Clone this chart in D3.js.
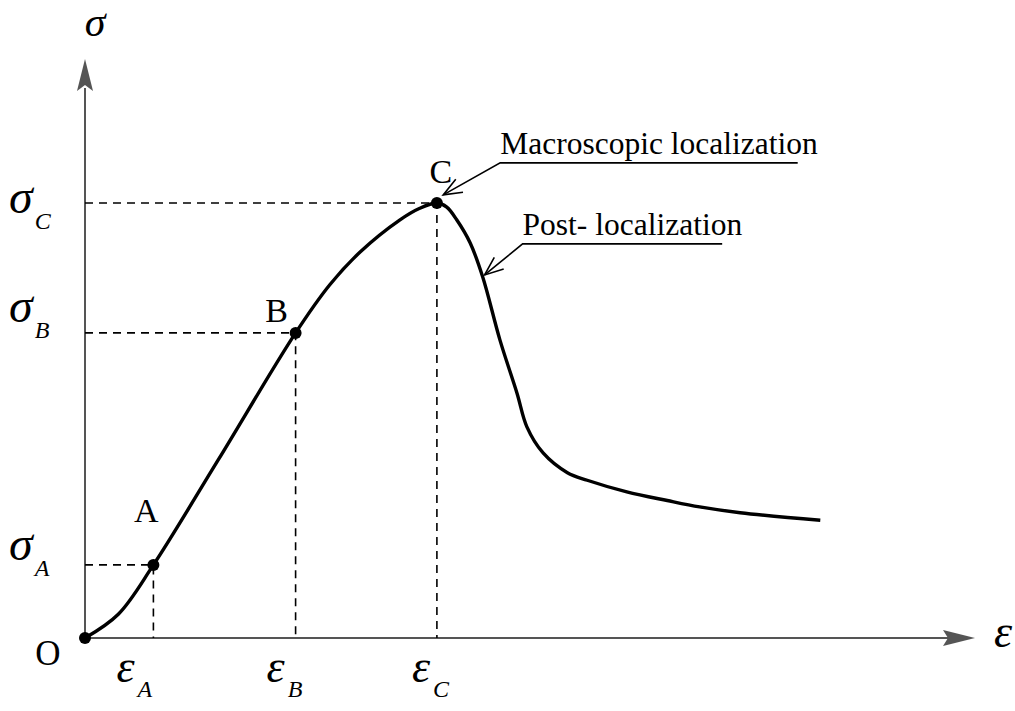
<!DOCTYPE html>
<html><head><meta charset="utf-8">
<script src="https://cdn.jsdelivr.net/npm/d3@7"></script>
<style>body{margin:0;background:#fff}svg{display:block}text{font-family:"Liberation Serif","Times New Roman",serif;fill:#000}</style>
</head><body><svg id="c" width="1015" height="711"></svg>
<script>
// ---- data (strain ε, stress σ in arbitrary units) ----
const strain = [0, 0.37, 0.76, 1.48, 2.34, 2.72, 3.06, 3.5, 3.72, 3.91, 4.02, 4.13, 4.28, 4.42, 4.61, 4.8, 4.91, 5.09, 5.36, 5.58, 6.02, 6.47, 6.83, 7.28, 8.17];
const stress = [0, 0.41, 1.26, 3.07, 5.26, 6.09, 6.66, 7.21, 7.41, 7.5, 7.43, 7.21, 6.81, 6.22, 5.14, 4.22, 3.64, 3.19, 2.85, 2.72, 2.52, 2.37, 2.26, 2.16, 2.03];
const keyNames = ["A", "B", "C"];
const keyStrain = [0.76, 2.34, 3.91];
const keyStress = [1.26, 5.26, 7.5];
const annotText = ["Macroscopic localization", "Post- localization"];
const annotStrain = [3.98, 4.44];
const annotStress = [7.64, 6.26];

const svg = d3.select("#c");
const x = d3.scaleLinear().domain([0, 10]).range([85, 985]);
const y = d3.scaleLinear().domain([0, 10]).range([638, 58]);
const axisColor = "#555";

// axes
const gx = svg.append("g").attr("transform", `translate(0,${y(0)})`)
  .call(d3.axisBottom(x).tickValues([]).tickSizeOuter(0));
const gy = svg.append("g").attr("transform", `translate(${x(0)},0)`)
  .call(d3.axisLeft(y).tickValues([]).tickSizeOuter(0));
[gx, gy].forEach(g => g.select(".domain").attr("stroke", axisColor).attr("stroke-width", 2));
gx.select(".domain").attr("d", `M${x(0)},0H${x(10) - 30}`);
gy.select(".domain").attr("d", `M0,${y(0)}V${y(10) + 30}`);

// arrowheads
const yt = [x(0), y(10) + 1];
svg.append("path").attr("fill", axisColor)
  .attr("d", `M${yt[0]},${yt[1]}L${yt[0] + 8},${yt[1] + 32}L${yt[0]},${yt[1] + 26}L${yt[0] - 8},${yt[1] + 32}Z`);
const xt = [x(10) - 10, y(0)];
svg.append("path").attr("fill", axisColor)
  .attr("d", `M${xt[0]},${xt[1]}L${xt[0] - 32},${xt[1] - 8}L${xt[0] - 27},${xt[1]}L${xt[0] - 32},${xt[1] + 8}Z`);

// dashed guide lines
keyNames.forEach((n, i) => {
  svg.append("path").attr("fill", "none").attr("stroke", "#000").attr("stroke-width", 1.6)
    .attr("stroke-dasharray", "8,6")
    .attr("d", `M${x(0)},${y(keyStress[i])}H${x(keyStrain[i])}V${y(0)}`);
});

// curve
const line = d3.line().x((d, i) => x(strain[i])).y((d, i) => y(stress[i])).curve(d3.curveCatmullRom.alpha(0.5));
svg.append("path").datum(strain).attr("fill", "none").attr("stroke", "#000")
  .attr("stroke-width", 3.4).attr("stroke-linejoin", "round").attr("d", line);

// points
svg.selectAll("circle.k").data([0, ...keyStrain]).join("circle")
  .attr("cx", d => x(d)).attr("cy", (d, i) => y(i === 0 ? 0 : keyStress[i - 1])).attr("r", 6).attr("fill", "#000");

// point letters
const letterOff = [[-7, -43], [-19, -11], [4, -20]];
keyNames.forEach((n, i) => {
  svg.append("text").attr("x", x(keyStrain[i]) + letterOff[i][0]).attr("y", y(keyStress[i]) + letterOff[i][1])
    .attr("text-anchor", "middle").attr("font-size", 34).text(n);
});
svg.append("text").attr("x", x(0) - 37).attr("y", y(0) + 27).attr("text-anchor", "middle").attr("font-size", 35).text("O");

// σ labels
const sigOff = [-5, -11, 10];
keyNames.forEach((n, i) => {
  const t = svg.append("text").attr("x", 9).attr("y", y(keyStress[i]) + sigOff[i]).attr("font-size", 48).attr("font-style", "italic");
  t.append("tspan").text("σ");
  t.append("tspan").attr("font-size", 24).attr("dx", 2).attr("dy", 16).text(n);
});
// ε labels
const epsOff = [-37, -29, -25];
keyNames.forEach((n, i) => {
  const t = svg.append("text").attr("x", x(keyStrain[i]) + epsOff[i]).attr("y", y(0) + 44).attr("font-size", 46).attr("font-style", "italic");
  t.append("tspan").text("ε");
  t.append("tspan").attr("font-size", 24).attr("dx", 3).attr("dy", 15).text(n);
});
// axis titles
svg.append("text").attr("x", x(0) + 10).attr("y", 36).attr("text-anchor", "middle").attr("font-size", 42).attr("font-style", "italic").text("σ");
svg.append("text").attr("x", 1003).attr("y", 647).attr("text-anchor", "middle").attr("font-size", 46).attr("font-style", "italic").text("ε");

// annotations
const annOff = [[57, -32], [38, -31]];
annotText.forEach((s, i) => {
  const tx = x(annotStrain[i]), ty = y(annotStress[i]);
  const sx = tx + annOff[i][0], sy = ty + annOff[i][1];
  const t = svg.append("text").attr("x", sx).attr("y", sy - 9).attr("font-size", 31.5).text(s);
  const w = t.node().getComputedTextLength();
  svg.append("path").attr("fill", "none").attr("stroke", "#000").attr("stroke-width", 1.6)
    .attr("d", `M${sx + w - 20},${sy}H${sx}L${tx},${ty}`);
  const ang = Math.atan2(sy - ty, sx - tx);
  const L = 20, a = 0.38;
  svg.append("path").attr("fill", "none").attr("stroke", "#000").attr("stroke-width", 1.6)
    .attr("d", `M${tx + L * Math.cos(ang + a)},${ty + L * Math.sin(ang + a)}L${tx},${ty}L${tx + L * Math.cos(ang - a)},${ty + L * Math.sin(ang - a)}`);
});
</script></body></html>
